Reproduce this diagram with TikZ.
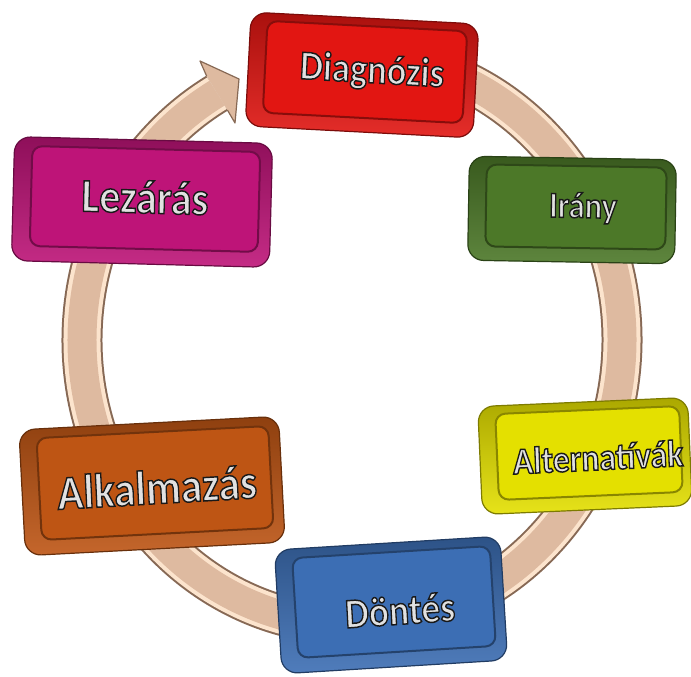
\documentclass[tikz,border=0pt]{standalone}
\usepackage{fontspec}
\setmainfont{Carlito}
\usetikzlibrary{calc}
\definecolor{ringdark}{RGB}{135,105,85}
\definecolor{ringlight}{RGB}{252,228,205}
\definecolor{ringtan}{RGB}{222,186,160}
\definecolor{txtgray}{RGB}{225,225,225}
\definecolor{cred}{RGB}{226,22,18}
\definecolor{cgreen}{RGB}{76,120,40}
\definecolor{cyellow}{RGB}{228,224,0}
\definecolor{cblue}{RGB}{60,110,180}
\definecolor{corange}{RGB}{190,85,20}
\definecolor{cmagenta}{RGB}{190,20,120}
\tikzset{
  boxrim/.style={draw=#1!55!black, line width=1.2pt, rounded corners=16pt,
    top color=#1!75!black, middle color=#1!80!white, bottom color=#1!90!white, inner sep=0pt},
  boxface/.style={draw=#1!60!black, line width=2pt, rounded corners=10pt, fill=#1, inner sep=0pt},
  txt/.style={inner sep=0pt, yscale=1.12},
}
\newcommand\otext[5]{%
  \node[txt, rotate=#3, font=\fontsize{#4}{#4}\selectfont\bfseries, text=txtgray] (#1) at (#2)
    {\special{pdf:literal direct 2 Tr 0.1 0.1 0.1 RG 1.3 w}#5\special{pdf:literal direct 0 Tr}};}
\begin{document}
\begin{tikzpicture}[x=1pt,y=-1pt]
\useasboundingbox (0,0) rectangle (691,677);
\begin{scope}
\clip (0,0) rectangle (691,677);
% ring
\draw[line width=41pt, ringdark] (352,340) ++(275:270 and 285) arc[start angle=275, end angle=600, x radius=270, y radius=285];
\draw[line width=37pt, ringlight] (352,340) ++(274:270 and 285) arc[start angle=274, end angle=600, x radius=270, y radius=285];
\draw[line width=29pt, ringtan] (352,340) ++(273:270 and 285) arc[start angle=273, end angle=600, x radius=270, y radius=285];
\coordinate (hA) at (206.6,76);
\coordinate (hB) at (200,61);
\coordinate (hC) at (239,79);
\coordinate (hD) at (235,123);
\coordinate (hE) at (227.4,110);
\fill[ringtan] (hA) -- (hB) -- (hC) -- (hD) -- (hE) -- cycle;
\draw[ringdark, line width=1.2pt, line join=round] (hA) -- (hB) -- (hC) -- (hD) -- (hE);

% Diagnozis
\node[boxrim=cred, rotate=-3, minimum width=228pt, minimum height=114pt] (diag) at (362,75) {};
\node[boxface=cred, rotate=-3, minimum width=200pt, minimum height=92pt] (diagF) at (365,72) {};
\otext{diagT}{372,72}{-3}{36.5}{Diagnózis}

% Lezaras
\node[boxrim=cmagenta, rotate=-1.5, minimum width=258pt, minimum height=124pt] (lez) at (142,202) {};
\node[boxface=cmagenta, rotate=-1.5, minimum width=228pt, minimum height=100pt] (lezF) at (145,199) {};
\otext{lezT}{145,197}{-1.5}{42}{Lezárás}

% Irany
\node[boxrim=cgreen, rotate=-1, minimum width=207pt, minimum height=104pt] (ir) at (572,210) {};
\node[boxface=cgreen, rotate=-1, minimum width=180pt, minimum height=82pt] (irF) at (576,207) {};
\otext{irT}{583,208}{-1}{32.5}{Irány}

% Alternativak
\node[boxrim=cyellow, rotate=2.5, minimum width=210pt, minimum height=108pt] (alt) at (585,456) {};
\node[boxface=cyellow, rotate=2.5, minimum width=184pt, minimum height=86pt] (altF) at (589,453) {};
\otext{altT}{598,457}{2.5}{33.5}{Alternatívák}

% Alkalmazas
\node[boxrim=corange, rotate=3, minimum width=260pt, minimum height=126pt] (alk) at (152,486) {};
\node[boxface=corange, rotate=3, minimum width=232pt, minimum height=102pt] (alkF) at (155,483) {};
\otext{alkT}{157,487}{3}{43}{Alkalmazás}

% Dontes
\node[boxrim=cblue, rotate=3.5, minimum width=226pt, minimum height=124pt] (don) at (391,605) {};
\node[boxface=cblue, rotate=3.5, minimum width=198pt, minimum height=100pt] (donF) at (394,602) {};
\otext{donT}{400,610}{3.5}{37.5}{Döntés}
\end{scope}
\end{tikzpicture}
\end{document}
